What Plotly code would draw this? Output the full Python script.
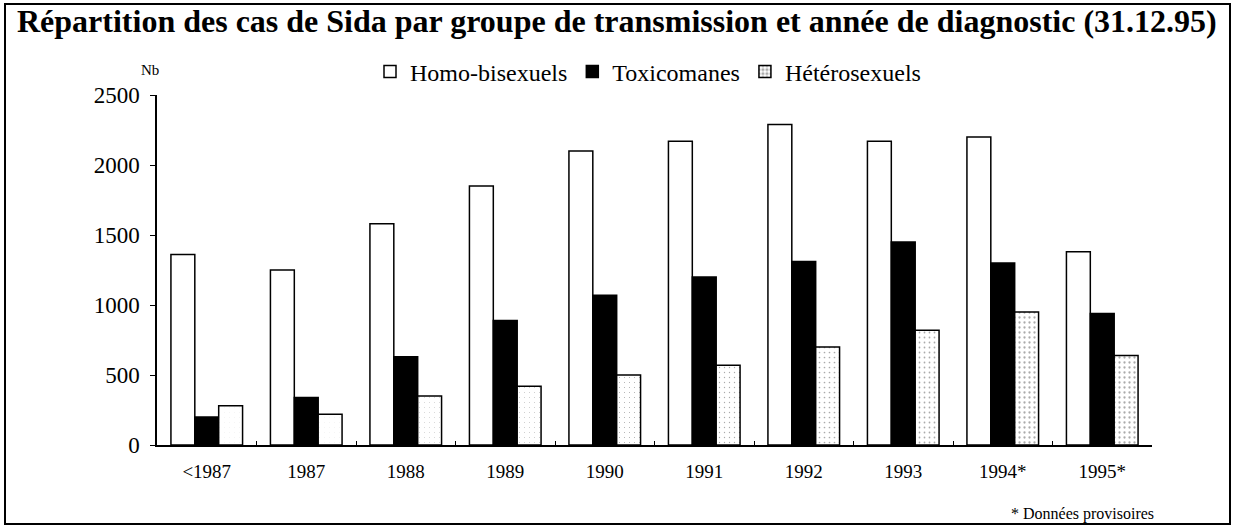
import plotly.graph_objects as go

annees = ["<1987", "1987", "1988", "1989", "1990", "1991", "1992", "1993", "1994*", "1995*"]
homo_bisexuels = [1360, 1250, 1580, 1850, 2100, 2170, 2290, 2170, 2200, 1380]
toxicomanes = [200, 340, 630, 890, 1070, 1200, 1310, 1450, 1300, 940]
heterosexuels = [280, 220, 350, 420, 500, 570, 700, 820, 950, 640]

# density of the stipple in the hetero bars (style, not data)
stipple = [0.005, 0.005, 0.02, 0.03, 0.04, 0.06, 0.09, 0.1, 0.16, 0.16]

W, H = 1234, 525
L, R, T, B = 157, 82, 95, 80
pw, ph = W - L - R, H - T - B

def px(x):
  return (x - L) / pw

def py(y):
  return (H - B - y) / ph

serif = "Liberation Serif"

fig = go.Figure()
fig.add_trace(go.Bar(x=annees, y=homo_bisexuels, name="Homo-bisexuels",
                     marker=dict(color="white", line=dict(color="black", width=1.5))))
fig.add_trace(go.Bar(x=annees, y=toxicomanes, name="Toxicomanes",
                     marker=dict(color="black", line=dict(color="black", width=1.5))))
fig.add_trace(go.Bar(x=annees, y=heterosexuels, name="Hétérosexuels",
                     marker=dict(color="white", line=dict(color="black", width=1.5),
                                 pattern=dict(shape=".", fgcolor="#555", bgcolor="white",
                                              size=5, solidity=stipple))))

fig.update_layout(
  width=W, height=H,
  margin=dict(l=L, r=R, t=T, b=B),
  paper_bgcolor="white", plot_bgcolor="white",
  barmode="group", bargap=0.28, bargroupgap=0,
  font=dict(family=serif, size=19, color="black"),
  showlegend=True,
  legend=dict(orientation="h", x=px(370), xanchor="left", y=py(72), yanchor="middle",
              font=dict(family=serif, size=24), bgcolor="rgba(0,0,0,0)",
              itemwidth=30, traceorder="normal"),
)
fig.update_xaxes(showline=True, linecolor="black", linewidth=1.5,
                 ticks="inside", tickson="boundaries", ticklen=4, tickcolor="black",
                 tickfont=dict(family=serif, size=19), ticklabelstandoff=8, showgrid=False)
fig.update_yaxes(range=[0, 2500], dtick=500, showline=True, linecolor="black", linewidth=1.5,
                 ticks="outside", ticklen=5, tickcolor="black", tickformat="d",
                 tickfont=dict(family=serif, size=23), ticklabelstandoff=6,
                 showgrid=False, zeroline=False)

fig.add_annotation(text="<b>Répartition des cas de Sida par groupe de transmission et année de diagnostic (31.12.95)</b>",
                   xref="paper", yref="paper", x=px(617), y=py(21), xanchor="center", yanchor="middle",
                   showarrow=False, font=dict(family=serif, size=32))
fig.add_annotation(text="Nb", xref="paper", yref="paper", x=px(150), y=py(70), xanchor="center", yanchor="middle",
                   showarrow=False, font=dict(family=serif, size=15))
fig.add_annotation(text="* Données provisoires", xref="paper", yref="paper", x=px(1082), y=py(514),
                   xanchor="center", yanchor="middle", showarrow=False, font=dict(family=serif, size=16))

fig.add_shape(type="rect", xref="paper", yref="paper", x0=px(5), x1=px(1230), y0=py(524), y1=py(4),
              line=dict(color="black", width=2), fillcolor="rgba(0,0,0,0)", layer="below")

# the page's default 8px body margin would push the figure off its place
fig.write_html("out.html", config={"displayModeBar": False},
               post_script="document.body.style.margin='0';document.body.style.overflow='hidden';")
